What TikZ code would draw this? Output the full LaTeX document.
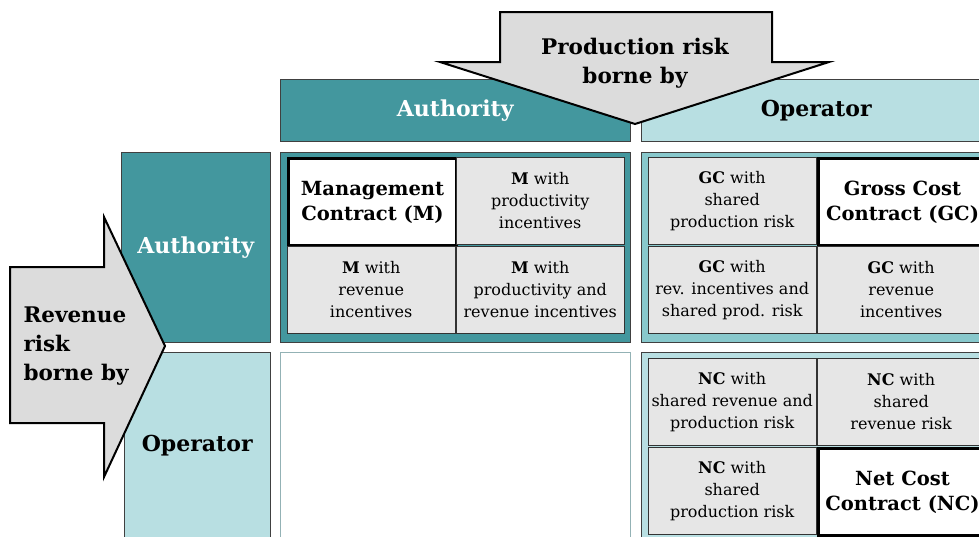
\documentclass[tikz,border=0pt]{standalone}
\usepackage{fontspec}
\setmainfont{DejaVu Serif}
\definecolor{tealdark}{HTML}{43979E}
\definecolor{teallight}{HTML}{B8DFE2}
\definecolor{tealmid}{HTML}{88C8CC}
\definecolor{cellgray}{HTML}{E6E6E6}
\definecolor{arrowgray}{HTML}{DCDCDC}
\tikzset{
  hdark/.style={draw=black!75,fill=tealdark,text=white,inner sep=0,anchor=north west,font=\bfseries\fontsize{22}{26}\selectfont},
  hlight/.style={draw=black!75,fill=teallight,inner sep=0,anchor=north west,font=\bfseries\fontsize{22}{26}\selectfont},
  quad/.style={draw=black!75,inner sep=0,anchor=north west,minimum width=350,minimum height=190},
  cell/.style={draw=black!80,fill=cellgray,inner sep=0,anchor=north west,minimum width=168,minimum height=87,align=center,font=\fontsize{16}{22}\selectfont},
  keycell/.style={cell,fill=white,line width=3pt,draw=black,font=\bfseries\fontsize{19.5}{25}\selectfont},
  riskarrow/.style={draw=black,line width=2pt,fill=arrowgray,line join=miter},
  risklbl/.style={font=\bfseries\fontsize{21.5}{29}\selectfont}
}
\begin{document}
\begin{tikzpicture}[x=1pt,y=-1pt]
			\useasboundingbox (0,0) rectangle (979,536);
			\clip (0,0) rectangle (979,536);
			% column headers
			\node[hdark,minimum width=350,minimum height=62,text depth=4pt] (colauth) at (280,79) {Authority};
			\node[hlight,minimum width=350,minimum height=62,text depth=4pt] (colop) at (641,79) {Operator};
			% row headers
			\node[hdark,minimum width=149,minimum height=190] (rowauth) at (121,152) {Authority};
			\node[hlight,minimum width=146,minimum height=194,text depth=11pt] (rowop) at (124,352) {Operator};
			% quadrants
			\node[quad,fill=tealdark] (qaa) at (280,152) {};
			\node[quad,fill=tealmid] (qao) at (641,152) {};
			\node[quad,draw=teallight!80!black,fill=white,minimum height=200] (qoa) at (280,352) {};
			\node[quad,fill=teallight,minimum height=200] (qoo) at (641,352) {};
			% authority / authority
			\node[keycell] (mc) at (287,157) {Management\\Contract (M)};
			\node[cell] (mprod) at (456,157) {\textbf{M} with\\productivity\\incentives};
			\node[cell] (mrev) at (287,246) {\textbf{M} with\\revenue\\incentives};
			\node[cell] (mboth) at (456,246) {\textbf{M} with\\productivity and\\revenue incentives};
			% authority / operator
			\node[cell] (gcshared) at (648,157) {\textbf{GC} with\\shared\\production risk};
			\node[keycell] (gc) at (817,157) {Gross Cost\\Contract (GC)};
			\node[cell] (gcboth) at (648,246) {\textbf{GC} with\\rev. incentives and\\shared prod. risk};
			\node[cell] (gcrev) at (817,246) {\textbf{GC} with\\revenue\\incentives};
			% operator / operator
			\node[cell] (ncboth) at (648,358) {\textbf{NC} with\\shared revenue and\\production risk};
			\node[cell] (ncrev) at (817,358) {\textbf{NC} with\\shared\\revenue risk};
			\node[cell] (ncprod) at (648,447) {\textbf{NC} with\\shared\\production risk};
			\node[keycell] (nc) at (817,447) {Net Cost\\Contract (NC)};
			% risk arrows
			\draw[riskarrow] (500,12) -- (772,12) -- (772,62) -- (829,62) -- (635,124) -- (440,62) -- (500,62) -- cycle;
			\node[risklbl,align=center] (prodlbl) at (635,63) {Production risk\\borne by};
			\draw[riskarrow] (10,267) -- (104,267) -- (104,217) -- (165,346) -- (104,477) -- (104,423) -- (10,423) -- cycle;
			\node[risklbl,align=left,anchor=west] (revlbl) at (20,346) {Revenue\\risk\\borne by};
		\end{tikzpicture}
\end{document}
